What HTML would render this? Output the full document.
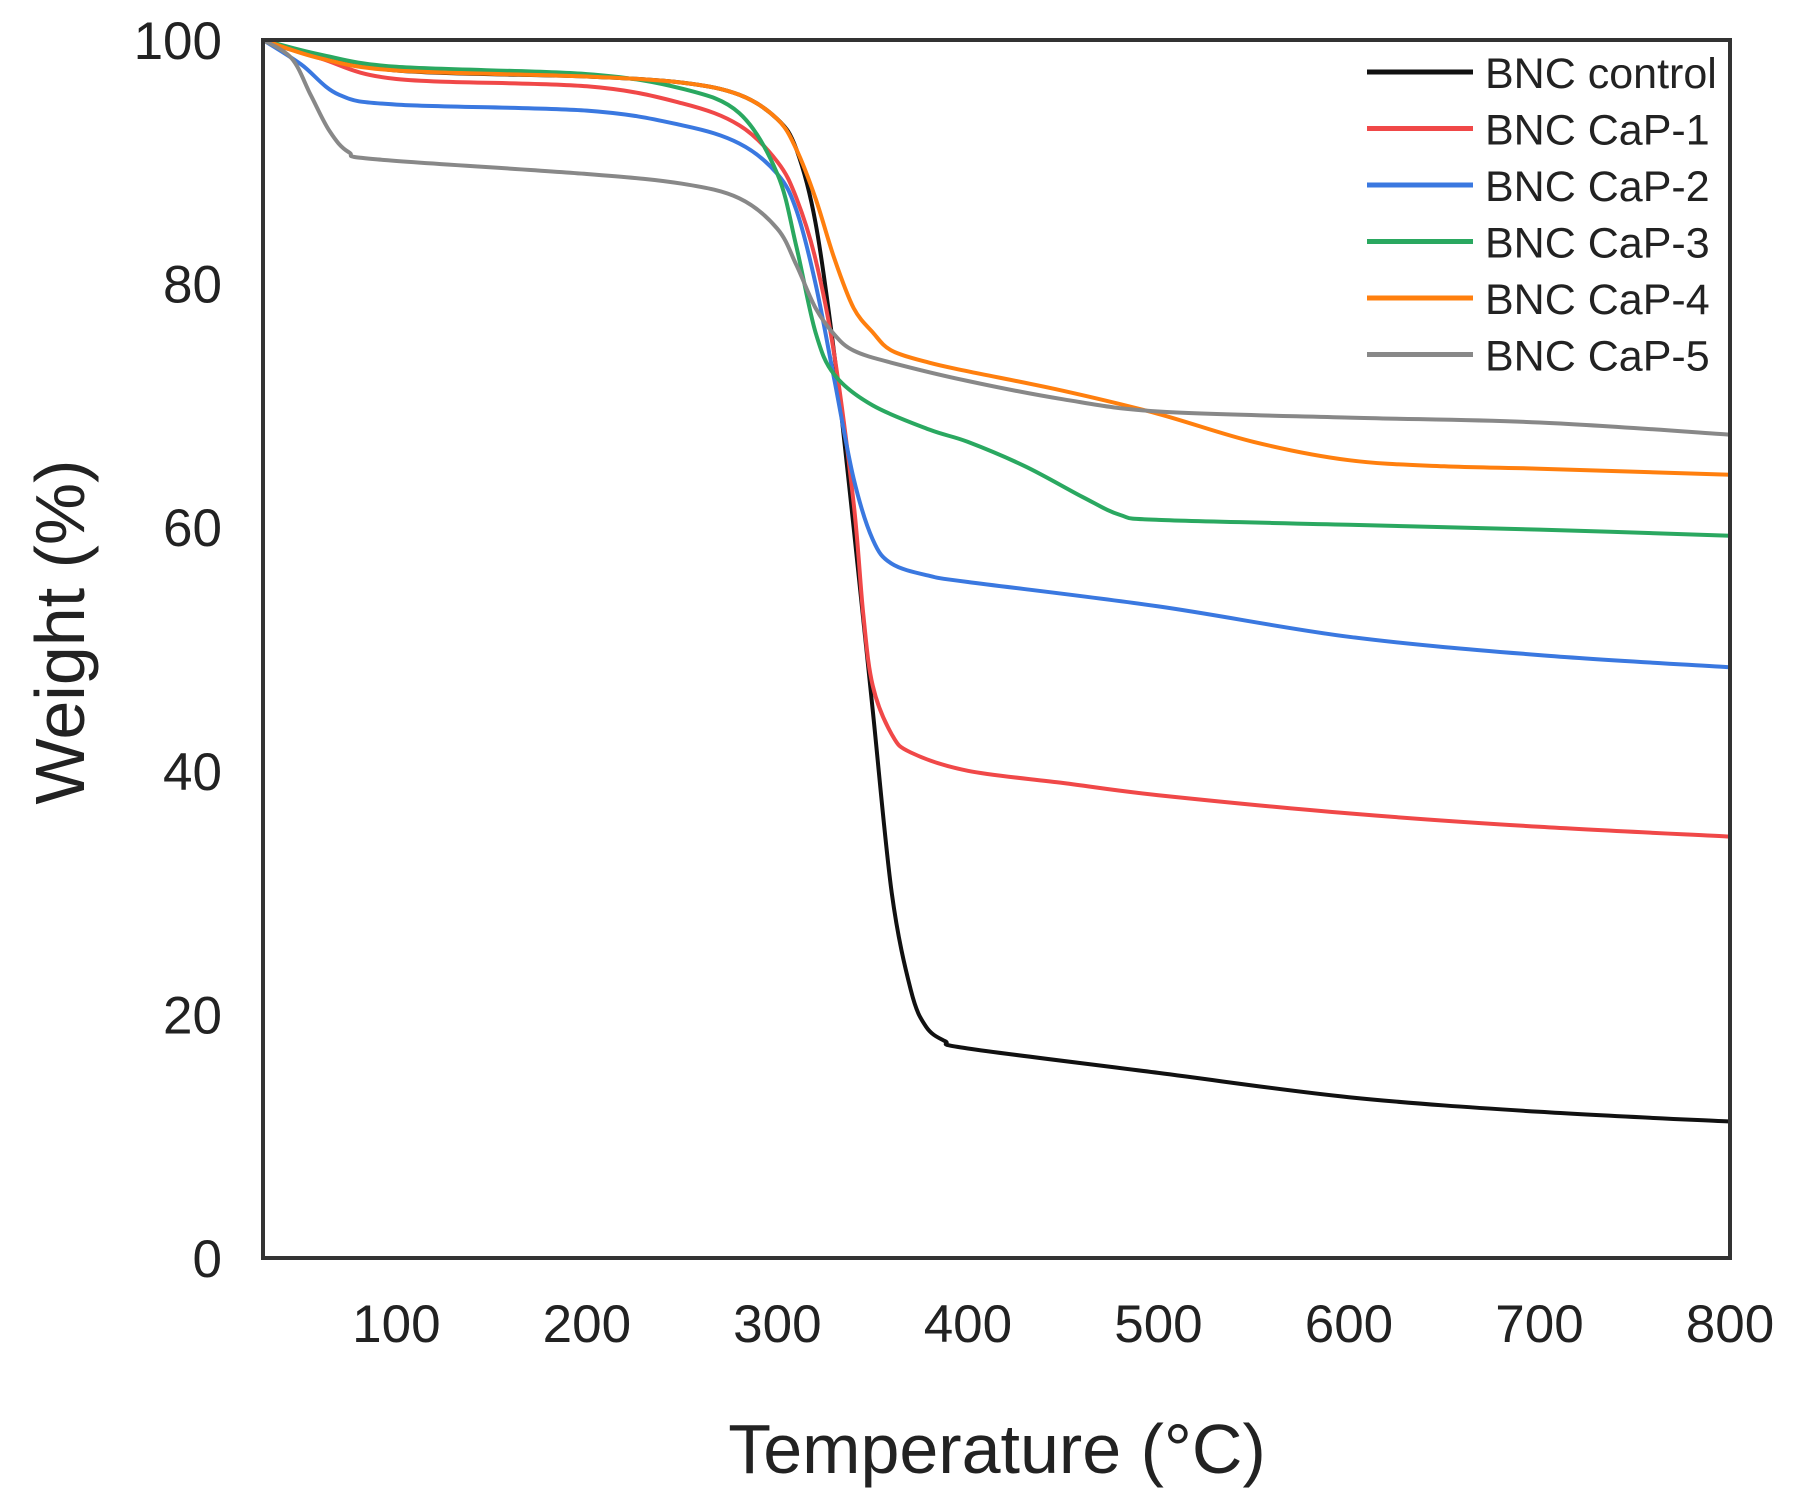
<!DOCTYPE html>
<html><head><meta charset="utf-8"><style>
html,body{margin:0;padding:0;background:#fff;}
svg{display:block;font-family:"Liberation Sans",Arial,sans-serif;}
</style></head><body>
<svg id="chart" width="1801" height="1511" viewBox="0 0 1801 1511" xmlns="http://www.w3.org/2000/svg">
<g id="plot"></g>
</svg>
<script>
const xTicks=[100,200,300,400,500,600,700,800];
const yTicks=[0,20,40,60,80,100];
const seriesNames=["BNC control","BNC CaP-1","BNC CaP-2","BNC CaP-3","BNC CaP-4","BNC CaP-5"];
const seriesColors=["#111111","#f04848","#3a78e0","#2aa860","#ff7f0e","#888888"];
const tControl=[30,50,100,200,250,280,300,310,320,330,340,350,360,370,378,388,400,500,600,700,800];
const wControl=[100,99,97.5,97,96.5,95.5,93.5,91,85,74,60,45,30,22,19,17.8,17.2,15.2,13.2,12,11.2];
const tCaP1=[30,60,100,200,250,280,300,310,320,330,340,345,350,360,370,400,450,500,600,700,800];
const wCaP1=[100,98.5,96.8,96.2,94.8,93,90,87,82,74,62,53,47,43,41.5,40,39,38,36.5,35.4,34.6];
const tCaP2=[30,50,70,100,200,250,280,300,310,320,330,340,350,360,380,400,500,600,700,800];
const wCaP2=[100,98,95.5,94.7,94.2,93,91.5,89,86,80,72,64,59,57,56,55.5,53.5,51,49.5,48.5];
const tCaP3=[30,60,100,200,250,280,300,310,320,330,350,380,400,430,460,480,500,600,700,800];
const wCaP3=[100,98.8,97.8,97.2,96,94,89,83,76,72.5,70,68,67,65,62.5,61,60.6,60.2,59.8,59.3];
const tCaP4=[30,60,100,200,250,280,300,310,320,330,340,350,360,380,400,450,500,550,600,650,700,800];
const wCaP4=[100,98.5,97.5,97,96.5,95.5,93.5,91,87,82,78,76,74.5,73.5,72.8,71.2,69.3,67,65.5,65,64.8,64.3];
const tCaP5=[30,45,55,65,75,90,200,250,280,300,310,320,330,340,360,400,450,500,600,700,800];
const wCaP5=[100,98.5,95.5,92.5,90.8,90.2,89,88.2,87,84.5,81.5,78,75.8,74.5,73.5,72,70.5,69.5,69,68.6,67.6];
const seriesT=[tControl,tCaP1,tCaP2,tCaP3,tCaP4,tCaP5];
const seriesW=[wControl,wCaP1,wCaP2,wCaP3,wCaP4,wCaP5];

const L=263,R=1730,T=40,B=1258,XMIN=30,XMAX=800;
const xs=v=>L+(v-XMIN)/(XMAX-XMIN)*(R-L);
const ys=v=>B-v/100*(B-T);
const NS="http://www.w3.org/2000/svg";
const svg=document.getElementById('chart');
function mk(tag,attrs,parent){const e=document.createElementNS(NS,tag);for(const k in attrs)e.setAttribute(k,attrs[k]);(parent||svg).appendChild(e);return e;}
function smooth(pts){let d="M"+pts[0][0]+","+pts[0][1];for(let i=0;i<pts.length-1;i++){const p0=pts[i-1]||pts[i],p1=pts[i],p2=pts[i+1],p3=pts[i+2]||p2;const c1=[p1[0]+(p2[0]-p0[0])/6,p1[1]+(p2[1]-p0[1])/6];const c2=[p2[0]-(p3[0]-p1[0])/6,p2[1]-(p3[1]-p1[1])/6];d+=" C"+c1[0].toFixed(1)+","+c1[1].toFixed(1)+" "+c2[0].toFixed(1)+","+c2[1].toFixed(1)+" "+p2[0].toFixed(1)+","+p2[1].toFixed(1);}return d;}

for(let s=0;s<seriesNames.length;s++){
  const pts=seriesT[s].map((t,i)=>[xs(t),ys(seriesW[s][i])]);
  const p=mk('path',{d:smooth(pts),fill:'none',stroke:seriesColors[s],'stroke-width':4,'stroke-linejoin':'round'});
  
  
}
const fr=mk('rect',{x:L,y:T,width:R-L,height:B-T,fill:'none',stroke:'#333',"stroke-width":4});


xTicks.forEach(v=>{const t=mk('text',{x:xs(v),y:1342,'text-anchor':'middle','font-size':53,fill:'#222'});t.textContent=v;

});
yTicks.forEach(v=>{const t=mk('text',{x:222,y:ys(v)+19,'text-anchor':'end','font-size':53,fill:'#222'});t.textContent=v;

});
const xt=mk('text',{x:997,y:1473,'text-anchor':'middle','font-size':70,fill:'#222'});xt.textContent='Temperature (°C)';


const yt=mk('text',{x:0,y:0,'text-anchor':'middle','font-size':70,fill:'#222',transform:'translate(84,632) rotate(-90)'});yt.textContent='Weight (%)';


seriesNames.forEach((n,i)=>{const y=72+i*56.5;
 const g=mk('g',{});
 
 
 mk('line',{x1:1367,x2:1473,y1:y,y2:y,stroke:seriesColors[i],'stroke-width':5},g);
 const t=mk('text',{x:1485,y:y+16,'font-size':43,fill:'#222'},g);t.textContent=n;});
</script>
</body></html>
